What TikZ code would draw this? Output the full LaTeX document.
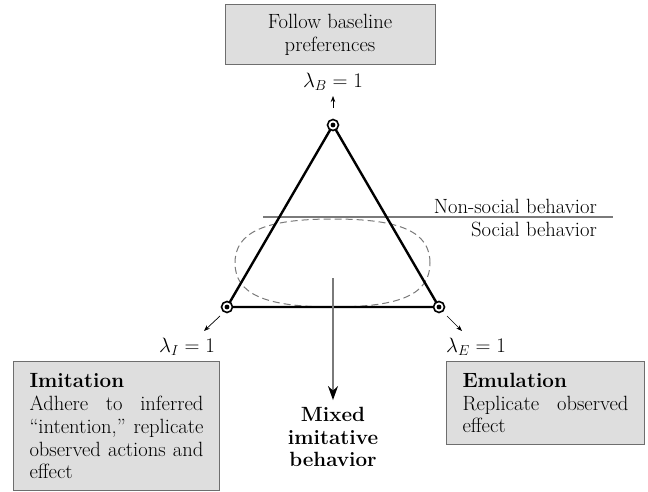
\documentclass[tikz,border=0pt]{standalone}
\usepackage{fontspec}
\usetikzlibrary{arrows.meta}
\definecolor{boxfill}{HTML}{DEDEDE}
\definecolor{boxline}{HTML}{6E6E6E}
\definecolor{guide}{HTML}{7A7A7A}
\tikzset{
  infobox/.style={draw=boxline, fill=boxfill, line width=1pt, inner ysep=0pt, inner xsep=16pt},
  vertex/.style={circle, draw, line width=1.6pt, minimum size=11pt, inner sep=0pt, fill=white},
  pointer/.style={-{Stealth[length=6pt,width=4.5pt]}, line width=0.7pt},
  guideline/.style={draw=guide, line width=1.1pt},
}
\begin{document}
\begin{tikzpicture}[x=1pt, y=-1pt, font=\fontsize{20.6}{22.6}\selectfont]
\useasboundingbox (0,0) rectangle (648,492);

% corner positions of the simplex
\coordinate (pB) at (333,125);
\coordinate (pI) at (227,307);
\coordinate (pE) at (439,307);

% separator between non-social and social behaviour
\coordinate (dL) at (263,217);
\coordinate (dR) at (613,217);
\draw[guideline] (dL) -- (dR);
\node[anchor=base east, inner sep=0pt] (nonsoc) at (597,213) {Non-social behavior};
\node[anchor=base east, inner sep=0pt] (soc) at (597,236) {Social behavior};

% region of mixed imitative behaviour
\draw[guide, line width=1pt, dash pattern=on 7pt off 4pt]
  (430,263) .. controls (430,232) and (401,219) .. (333,219)
            .. controls (265,219) and (235,232) .. (235,263)
            .. controls (235,294) and (265,307) .. (333,307)
            .. controls (401,307) and (430,294) .. (430,263);

% triangle with marked corners
\draw[line width=2.4pt, line join=round] (pB) -- (pI) -- (pE) -- cycle;
\foreach \p/\v in {pB/vB, pI/vI, pE/vE} {
  \node[vertex] (\v) at (\p) {};
  \fill (\v.center) circle (2.4pt);
}

% top corner
\node[infobox, minimum width=210pt, minimum height=60pt, align=center] (base) at (330,35)
  {Follow baseline\\preferences};
\node (lamB) at (333,82) {$\lambda_B = 1$};
\coordinate (aB1) at (333,108);
\coordinate (aB2) at (333,96);
\draw[pointer] (aB1) -- (aB2);

% left corner
\node (lamI) at (187,347) {$\lambda_I = 1$};
\coordinate (aI1) at (220,316);
\coordinate (aI2) at (204,331);
\draw[pointer] (aI1) -- (aI2);
\node[infobox, anchor=north west, minimum width=206pt, minimum height=129pt,
      text width=174pt, align=justify] (imit) at (13,361)
  {\noindent{\bfseries Imitation}\\[1pt]
   Adhere to inferred\linebreak ``intention,'' replicate\linebreak
   observed actions and\linebreak effect};

% right corner
\node (lamE) at (476,347) {$\lambda_E = 1$};
\coordinate (aE1) at (447,316);
\coordinate (aE2) at (462,331);
\draw[pointer] (aE1) -- (aE2);
\node[infobox, anchor=north west, minimum width=198pt, minimum height=83pt,
      text width=166pt, align=justify] (emul) at (446,361)
  {\noindent{\bfseries Emulation}\\
   Replicate observed\linebreak effect};

% mixed outcome
\coordinate (mTop) at (333,278);
\node[align=center, font=\fontsize{20.6}{22.2}\selectfont\bfseries] (mixed) at (333,437)
  {Mixed\\imitative\\behavior};
\draw[guide, line width=1.3pt, -{Stealth[length=14pt,width=10pt,black]}, shorten >=4pt]
  (mTop) -- (mixed.north);
\end{tikzpicture}
\end{document}
